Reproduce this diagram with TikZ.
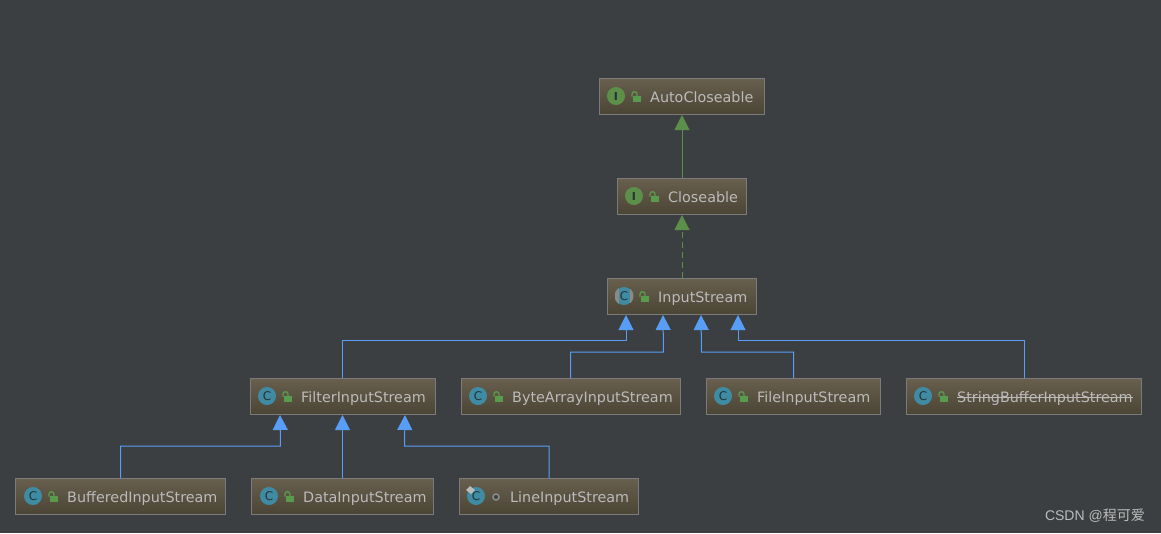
\documentclass[tikz,border=0pt]{standalone}
\usepackage{fontspec}
\setmainfont{DejaVu Sans}
\newfontfamily\wmfont{Liberation Sans}
\newfontfamily\cjk{Noto Sans CJK SC}
\usetikzlibrary{arrows.meta}
\definecolor{bgc}{HTML}{3C3F41}
\definecolor{boxtop}{HTML}{685F4E}
\definecolor{boxbot}{HTML}{4B4535}
\definecolor{boxline}{HTML}{7B7B7B}
\definecolor{labelc}{HTML}{BBBBBB}
\definecolor{greenc}{HTML}{5C8F49}
\definecolor{bluec}{HTML}{589DF6}
\definecolor{tealc}{HTML}{3E8BA3}
\definecolor{inkc}{HTML}{243238}
\definecolor{lockc}{HTML}{5A9A4C}
\definecolor{flankc}{HTML}{8A8A88}
\tikzset{
  x=1pt,y=-1pt,
  classbox/.style={draw=boxline,line width=1pt,top color=boxtop,bottom color=boxbot,minimum height=36pt,inner sep=0pt,anchor=north west},
  classname/.style={anchor=base west,text=labelc,font=\fontsize{14.35pt}{16pt}\selectfont,inner sep=0pt},
  iconbase/.style={circle,minimum size=18pt,inner sep=0pt,font=\fontsize{12pt}{12pt}\selectfont,text=inkc},
  cicon/.style={iconbase,fill=tealc},
  iicon/.style={iconbase,fill=greenc,font=\bfseries\fontsize{11pt}{11pt}\selectfont},
  inherit/.style={draw=bluec,line width=1pt,-{Triangle[length=15pt,width=15pt,fill=bluec]}},
  realize/.style={draw=greenc,line width=1pt,-{Triangle[length=15pt,width=15pt,fill=greenc]}},
  pics/lock/.style={code={
    \fill[lockc] (2,0) rectangle (10,6);
    \draw[lockc,line width=1.3pt] (1,0.5) -- (1,-2) .. controls (1,-5) and (6,-5) .. (6,-2) -- (6,0);
  }}
}
\newcommand{\classnode}[8]{% id, left, top, width, icon style, icon text, label, content nudge
  \node[classbox,minimum width=#4pt] (#1) at (#2,#3) {};
  \node[#5] (#1i) at (#2+17+#8,#3+18) {#6};
  \node[classname] (#1t) at (#2+51+#8,#3+24) {#7};
}
\begin{document}
\begin{tikzpicture}
\fill[bgc] (0,0) rectangle (1161,533);
\useasboundingbox (0,0) rectangle (1161,533);

\classnode{auto}{599}{78}{165}{iicon}{I}{AutoCloseable}{0}
\classnode{close}{617}{178}{129}{iicon}{I}{Closeable}{0}
\classnode{input}{607}{278}{149}{cicon}{C}{InputStream}{0}
\classnode{filter}{250}{378}{185}{cicon}{C}{FilterInputStream}{0}
\classnode{byte}{461}{378}{219}{cicon}{C}{ByteArrayInputStream}{0}
\classnode{file}{706}{378}{174}{cicon}{C}{FileInputStream}{0}
\classnode{sbuf}{906}{378}{235}{cicon}{C}{StringBufferInputStream}{0}
\classnode{buff}{15}{478}{210}{cicon}{C}{BufferedInputStream}{1}
\classnode{data}{251}{478}{182}{cicon}{C}{DataInputStream}{1}
\classnode{line}{459}{478}{179}{cicon}{C}{LineInputStream}{0}

% abstract flanks on the InputStream icon
\begin{scope}
  \clip (inputi.center) circle[radius=9.5pt];
  \fill[flankc] (614.5,286) rectangle (619,306);
  \fill[flankc] (629.5,286) rectangle (634,306);
\end{scope}

% deprecated strike
\draw[labelc,line width=1pt] ([yshift=5pt]sbuft.base west) -- ([yshift=5pt]sbuft.base east);

% locks
\foreach \x/\y in {599/96,617/196,607/296,250/396,461/396,706/396,906/396,16/496,252/496}
  \pic at (\x+32,\y) {lock};
% package-local dot
\node[circle,draw=flankc,line width=1.6pt,fill=bgc,minimum size=6pt,inner sep=0pt] (linedot) at (496,497) {};
\fill[labelc] (466,490) -- (470,486) -- (475,490) -- (471,494) -- cycle;

% connectors
\draw[realize] (close.north -| auto.south) -- (auto.south);
\draw[realize,dash pattern=on 6pt off 4pt] (input.north -| close.south) -- (close.south);

\draw[inherit] ([xshift=-0.5pt]filter.north) |- ++(283.5,-38) -- ([xshift=19pt]input.south west);
\draw[inherit] ([xshift=-0.5pt]byte.north) |- ++(93,-26) -- ([xshift=56pt]input.south west);
\draw[inherit] (file.north) |- ++(-92,-26) -- ([xshift=94pt]input.south west);
\draw[inherit] (sbuf.north) |- ++(-286,-38) -- ([xshift=131pt]input.south west);

\draw[inherit] (buff.north) |- ++(160,-32) -- ([xshift=30pt]filter.south west);
\draw[inherit] (data.north) -- (data.north |- filter.south);
\draw[inherit] (line.north) |- ++(-144.5,-32) -- ([xshift=155pt]filter.south west);

\node[anchor=east,inner sep=0pt,text=labelc,font=\fontsize{14pt}{16pt}\selectfont] (mark) at (1145,516) {\wmfont CSDN @\cjk 程可爱};
\end{tikzpicture}
\end{document}
